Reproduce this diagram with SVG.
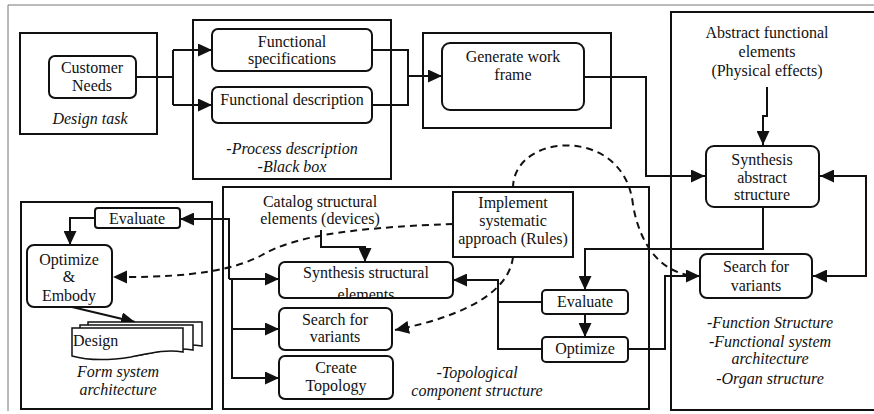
<svg xmlns="http://www.w3.org/2000/svg" width="874" height="414" viewBox="0 0 874 414">
  <style>
    text { font-family: 'Liberation Serif', 'Times New Roman', serif; font-size: 16px; fill: #111; text-anchor: middle; }
    .it { font-style: italic; }
    .lt { text-anchor: start; }
    .frame { fill: none; stroke: #111; stroke-width: 2; }
    .node { fill: #fff; stroke: #111; stroke-width: 2; }
    .conn { fill: none; stroke: #111; stroke-width: 2; }
    .arr { marker-end: url(#ah); }
    .dash { fill: none; stroke: #111; stroke-width: 2; stroke-dasharray: 7 5; }
    .doc { fill: #fff; stroke: #111; stroke-width: 1.5; }
  </style>
  <defs>
    <marker id="ah" markerUnits="userSpaceOnUse" markerWidth="14" markerHeight="13" refX="14" refY="6.5" orient="auto">
      <path d="M0,0 L14,6.5 L0,13 z" fill="#111"/>
    </marker>
    <clipPath id="clipSSE">
      <rect x="280" y="263" width="172" height="34"/>
    </clipPath>
  </defs>

  <rect width="874" height="414" fill="#fff"/>
  <!-- outer page frame -->
  <path d="M8,411 V5 H874" fill="none" stroke="#777" stroke-width="1"/>

  <!-- group frames -->
  <g id="frames">
    <rect class="frame" x="20" y="33" width="137" height="101"/>
    <rect class="frame" x="193" y="20" width="198" height="159"/>
    <rect class="frame" x="423" y="33" width="188" height="95"/>
    <rect class="frame" x="671" y="12" width="220" height="398"/>
    <rect class="frame" x="21" y="202" width="191" height="207"/>
    <rect class="frame" x="223" y="187" width="426" height="222"/>
  </g>

  <!-- captions of the frames -->
  <g id="captions">
    <text class="it" x="90" y="124">Design task</text>
    <text class="it" x="292" y="154">-Process description</text>
    <text class="it" x="292" y="172">-Black box</text>
    <text class="it" x="770" y="328">-Function Structure</text>
    <text class="it" x="770" y="347">-Functional system</text>
    <text class="it" x="770" y="364">architecture</text>
    <text class="it" x="770" y="384">-Organ structure</text>
    <text class="it" x="118" y="377">Form system</text>
    <text class="it" x="118" y="395">architecture</text>
    <text class="it" x="477" y="378">-Topological</text>
    <text class="it" x="477" y="396">component structure</text>
  </g>

  <!-- connectors -->
  <g id="connectors">
    <path class="conn" d="M136,77 H173 M173,50 V105"/>
    <path class="conn arr" d="M173,50 H212"/>
    <path class="conn arr" d="M173,105 H212"/>
    <path class="conn" d="M372,50 H408 V105 H372"/>
    <path class="conn arr" d="M408,76 H442"/>
    <path class="conn arr" d="M584,77 H646 V176 H705"/>
    <path class="conn arr" d="M767,87 V116 H763 V145"/>
    <path class="conn arr" d="M866,226 V176 H820"/>
    <path class="conn arr" d="M866,226 V276 H813"/>
    <path class="conn arr" d="M763,207 V249 H585 V290"/>
    <path class="conn arr" d="M628,349 H665 V276 H700"/>
    <path class="conn arr" d="M585,314 V337"/>
    <path class="conn arr" d="M542,302 H498 V280 H453"/>
    <path class="conn" d="M542,349 H498 V302"/>
    <path class="conn arr" d="M321,230 V247 H365 V262"/>
    <path class="conn arr" d="M229,279 V219 H180"/>
    <path class="conn arr" d="M229,279 H279"/>
    <path class="conn arr" d="M232,279 V378 H279"/>
    <path class="conn arr" d="M232,329 H279"/>
    <path class="conn arr" d="M95,218 H70 V245"/>
    <path class="conn arr" d="M72,307 L135,322"/>
    <!-- dashed rule links -->
    <path class="dash" d="M453,224 C340,228 292,238 262,255 C235,270 190,277 128,277"/>
    <path d="M113,277 L127,270.5 L127,283.5 z" fill="#111"/>
    <path class="dash arr" d="M513,257 C509,290 470,315 395,330"/>
    <path class="dash" d="M513,188 C513,132 625,125 633,205 C640,245 660,270 688,275"/>
  </g>

  <!-- nodes -->
  <g id="customer-needs">
    <rect class="node" x="49" y="56" width="87" height="42" rx="6"/>
    <text x="92" y="73">Customer</text>
    <text x="92" y="91">Needs</text>
  </g>
  <g id="functional-specifications">
    <rect class="node" x="212" y="29" width="160" height="42" rx="6"/>
    <text x="292" y="47">Functional</text>
    <text x="292" y="64">specifications</text>
  </g>
  <g id="functional-description">
    <rect class="node" x="212" y="87" width="160" height="36" rx="6"/>
    <text x="292" y="105">Functional description</text>
  </g>
  <g id="generate-work-frame">
    <rect class="node" x="442" y="43" width="142" height="67" rx="8"/>
    <text x="513" y="62">Generate work</text>
    <text x="513" y="80">frame</text>
  </g>
  <g id="abstract-elements">
    <text x="767" y="38">Abstract functional</text>
    <text x="767" y="57">elements</text>
    <text x="767" y="76">(Physical effects)</text>
  </g>
  <g id="synthesis-abstract">
    <rect class="node" x="706" y="146" width="113" height="61" rx="8"/>
    <text x="762" y="165">Synthesis</text>
    <text x="762" y="183">abstract</text>
    <text x="762" y="200">structure</text>
  </g>
  <g id="search-variants-right">
    <rect class="node" x="700" y="254" width="112" height="44" rx="7"/>
    <text x="756" y="272">Search for</text>
    <text x="756" y="291">variants</text>
  </g>
  <g id="catalog-elements">
    <text x="320" y="207">Catalog structural</text>
    <text x="320" y="224">elements (devices)</text>
  </g>
  <g id="implement-rules">
    <rect class="node" x="453" y="192" width="120" height="65"/>
    <text x="513" y="208">Implement</text>
    <text x="513" y="226">systematic</text>
    <text x="513" y="244">approach (Rules)</text>
  </g>
  <g id="synthesis-structural">
    <rect class="node" x="279" y="262" width="174" height="36" rx="6"/>
    <g clip-path="url(#clipSSE)">
      <text x="366" y="278">Synthesis structural</text>
      <text x="366" y="300">elements</text>
    </g>
  </g>
  <g id="search-variants-mid">
    <rect class="node" x="279" y="308" width="113" height="42" rx="6"/>
    <text x="335" y="325">Search for</text>
    <text x="335" y="342">variants</text>
  </g>
  <g id="create-topology">
    <rect class="node" x="279" y="356" width="114" height="43" rx="6"/>
    <text x="336" y="373">Create</text>
    <text x="336" y="391">Topology</text>
  </g>
  <g id="evaluate-mid">
    <rect class="node" x="542" y="290" width="86" height="24" rx="4"/>
    <text x="585" y="307">Evaluate</text>
  </g>
  <g id="optimize-mid">
    <rect class="node" x="542" y="337" width="86" height="25" rx="4"/>
    <text x="585" y="354">Optimize</text>
  </g>
  <g id="evaluate-left">
    <rect class="node" x="95" y="208" width="85" height="20" rx="3"/>
    <text x="137" y="224">Evaluate</text>
  </g>
  <g id="optimize-embody">
    <rect class="node" x="27" y="245" width="85" height="62" rx="7"/>
    <text x="69" y="265">Optimize</text>
    <text x="69" y="282">&amp;</text>
    <text x="69" y="301">Embody</text>
  </g>
  <g id="design-stack">
    <path class="doc" d="M88,322 H202 V346 C185,343 170,347 150,351 C125,355 105,354 88,350 Z"/>
    <path class="doc" d="M80,325 H193 V350 C176,347 161,351 141,355 C116,359 96,358 80,354 Z"/>
    <path class="doc" d="M72,328 H183 V352 C166,349 151,353 131,357 C106,361 86,360 72,356 Z"/>
    <text class="lt" x="73" y="346">Design</text>
  </g>
</svg>
